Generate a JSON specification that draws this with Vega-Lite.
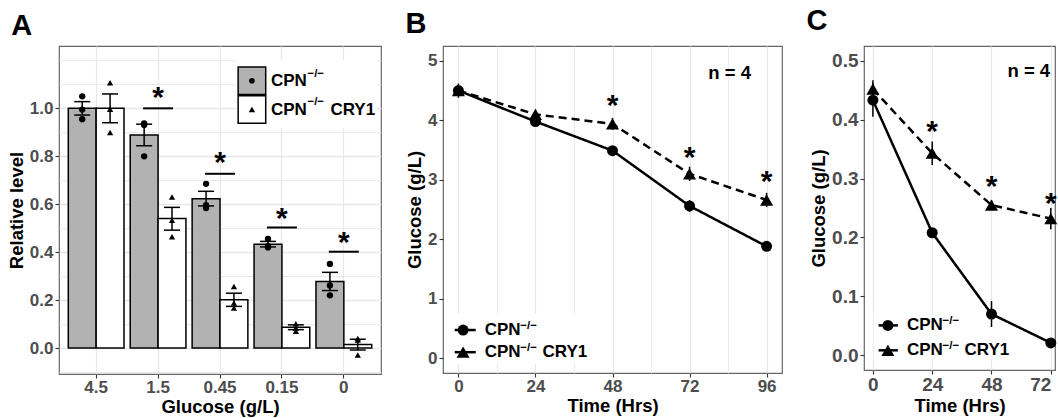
{
"$schema": "https://vega.github.io/schema/vega-lite/v6.json",
"background": "white",
"padding": {"top": 5, "left": 6, "right": 0, "bottom": 0},
"spacing": 22,
"config": {
 "font": "Liberation Sans",
 "view": {"stroke": "#666666", "strokeWidth": 1.2},
 "axis": {"domain": false, "tickColor": "#333333", "tickSize": 4, "tickWidth": 1.1, "labelFontSize": 17, "labelFontWeight": "bold", "labelColor": "#4D4D4D", "labelPadding": 2, "labelOverlap": false, "titleFontSize": 18.5, "titleFontWeight": "bold", "titleColor": "#000000", "titlePadding": 3, "gridColor": "#E8E8E8", "gridWidth": 1.3},
 "axisX": {"labelPadding": 1, "titlePadding": 2},
 "title": {"fontSize": 29, "fontWeight": "bold", "anchor": "start", "frame": "bounds", "color": "#000000"},
 "text": {"fontWeight": "bold", "color": "#000000"}
},
"datasets": {
 "aSum": [
  {"glucose": "4.5", "strain": "CPN", "mean": 1.0, "lo": 0.972, "hi": 1.028},
  {"glucose": "4.5", "strain": "CRY1", "mean": 1.0, "lo": 0.94, "hi": 1.06},
  {"glucose": "1.5", "strain": "CPN", "mean": 0.889, "lo": 0.844, "hi": 0.934},
  {"glucose": "1.5", "strain": "CRY1", "mean": 0.541, "lo": 0.492, "hi": 0.587},
  {"glucose": "0.45", "strain": "CPN", "mean": 0.623, "lo": 0.593, "hi": 0.654},
  {"glucose": "0.45", "strain": "CRY1", "mean": 0.202, "lo": 0.174, "hi": 0.229},
  {"glucose": "0.15", "strain": "CPN", "mean": 0.433, "lo": 0.422, "hi": 0.445},
  {"glucose": "0.15", "strain": "CRY1", "mean": 0.087, "lo": 0.077, "hi": 0.097},
  {"glucose": "0", "strain": "CPN", "mean": 0.278, "lo": 0.24, "hi": 0.316},
  {"glucose": "0", "strain": "CRY1", "mean": 0.015, "lo": -0.008, "hi": 0.037}
 ],
 "aPts": [
  {"glucose": "4.5", "strain": "CPN", "v": 1.05}, {"glucose": "4.5", "strain": "CPN", "v": 0.995}, {"glucose": "4.5", "strain": "CPN", "v": 0.955},
  {"glucose": "4.5", "strain": "CRY1", "v": 1.107}, {"glucose": "4.5", "strain": "CRY1", "v": 0.996}, {"glucose": "4.5", "strain": "CRY1", "v": 0.899},
  {"glucose": "1.5", "strain": "CPN", "v": 0.937}, {"glucose": "1.5", "strain": "CPN", "v": 0.93}, {"glucose": "1.5", "strain": "CPN", "v": 0.8},
  {"glucose": "1.5", "strain": "CRY1", "v": 0.63}, {"glucose": "1.5", "strain": "CRY1", "v": 0.533}, {"glucose": "1.5", "strain": "CRY1", "v": 0.464},
  {"glucose": "0.45", "strain": "CPN", "v": 0.685}, {"glucose": "0.45", "strain": "CPN", "v": 0.596}, {"glucose": "0.45", "strain": "CPN", "v": 0.584},
  {"glucose": "0.45", "strain": "CRY1", "v": 0.257}, {"glucose": "0.45", "strain": "CRY1", "v": 0.188}, {"glucose": "0.45", "strain": "CRY1", "v": 0.167},
  {"glucose": "0.15", "strain": "CPN", "v": 0.455}, {"glucose": "0.15", "strain": "CPN", "v": 0.425}, {"glucose": "0.15", "strain": "CPN", "v": 0.42},
  {"glucose": "0.15", "strain": "CRY1", "v": 0.102}, {"glucose": "0.15", "strain": "CRY1", "v": 0.084}, {"glucose": "0.15", "strain": "CRY1", "v": 0.07},
  {"glucose": "0", "strain": "CPN", "v": 0.351}, {"glucose": "0", "strain": "CPN", "v": 0.261}, {"glucose": "0", "strain": "CPN", "v": 0.22},
  {"glucose": "0", "strain": "CRY1", "v": 0.04}, {"glucose": "0", "strain": "CRY1", "v": 0.034}, {"glucose": "0", "strain": "CRY1", "v": -0.029}
 ],
 "aSig": [
  {"glucose": "1.5", "line": 1.0, "star": 1.053},
  {"glucose": "0.45", "line": 0.727, "star": 0.779},
  {"glucose": "0.15", "line": 0.503, "star": 0.547},
  {"glucose": "0", "line": 0.402, "star": 0.448}
 ],
 "bSer": [
  {"time": 0, "strain": "CPN", "glucose": 4.5, "lo": 4.45, "hi": 4.55},
  {"time": 24, "strain": "CPN", "glucose": 3.98, "lo": 3.93, "hi": 4.03},
  {"time": 48, "strain": "CPN", "glucose": 3.49, "lo": 3.44, "hi": 3.54},
  {"time": 72, "strain": "CPN", "glucose": 2.56, "lo": 2.46, "hi": 2.66},
  {"time": 96, "strain": "CPN", "glucose": 1.88, "lo": 1.83, "hi": 1.93},
  {"time": 0, "strain": "CRY1", "glucose": 4.5, "lo": 4.38, "hi": 4.62},
  {"time": 24, "strain": "CRY1", "glucose": 4.1, "lo": 4.02, "hi": 4.18},
  {"time": 48, "strain": "CRY1", "glucose": 3.94, "lo": 3.84, "hi": 4.04},
  {"time": 72, "strain": "CRY1", "glucose": 3.1, "lo": 2.98, "hi": 3.22},
  {"time": 96, "strain": "CRY1", "glucose": 2.66, "lo": 2.54, "hi": 2.78}
 ],
 "bStar": [{"time": 48, "y": 4.28}, {"time": 72, "y": 3.4}, {"time": 96, "y": 3.0}],
 "cSer": [
  {"time": 0, "strain": "CPN", "glucose": 0.433, "lo": 0.405, "hi": 0.461},
  {"time": 24, "strain": "CPN", "glucose": 0.208, "lo": 0.203, "hi": 0.213},
  {"time": 48, "strain": "CPN", "glucose": 0.07, "lo": 0.048, "hi": 0.092},
  {"time": 72, "strain": "CPN", "glucose": 0.021, "lo": 0.018, "hi": 0.024},
  {"time": 0, "strain": "CRY1", "glucose": 0.452, "lo": 0.437, "hi": 0.467},
  {"time": 24, "strain": "CRY1", "glucose": 0.343, "lo": 0.323, "hi": 0.363},
  {"time": 48, "strain": "CRY1", "glucose": 0.255, "lo": 0.247, "hi": 0.263},
  {"time": 72, "strain": "CRY1", "glucose": 0.232, "lo": 0.214, "hi": 0.25}
 ],
 "cStar": [{"time": 24, "y": 0.382}, {"time": 48, "y": 0.289}, {"time": 72, "y": 0.261}],
 "one": [{}]
},
"hconcat": [
 {
  "width": 322, "height": 328,
  "title": {"text": "A", "offset": 5, "dx": 4},
  "resolve": {"axis": {"y": "independent"}},
  "layer": [
   {"layer": [
   {"data": {"name": "aSum"}, "mark": {"type": "bar", "stroke": "black", "strokeWidth": 1.5},
    "encoding": {
     "x": {"field": "glucose", "type": "nominal", "scale": {"domain": ["4.5", "1.5", "0.45", "0.15", "0"], "paddingInner": 0.1, "paddingOuter": 0.15}, "title": "Glucose (g/L)", "axis": {"grid": true, "labelAngle": 0, "bandPosition": 0.5}},
     "xOffset": {"field": "strain", "type": "nominal", "scale": {"domain": ["CPN", "CRY1"], "paddingInner": 0, "paddingOuter": 0}},
     "y": {"field": "mean", "type": "quantitative", "stack": null, "scale": {"domain": [-0.108, 1.26], "nice": false, "zero": false}, "title": "Relative level",
      "axis": {"values": [0, 0.2, 0.4, 0.6, 0.8, 1], "format": ".1f", "grid": true, "gridWidth": 1.3}},
     "y2": {"datum": 0},
     "fill": {"field": "strain", "type": "nominal", "scale": {"domain": ["CPN", "CRY1"], "range": ["#B2B2B2", "#FFFFFF"]}, "legend": null}
    }},
   {"data": {"name": "aSum"}, "mark": {"type": "rule", "strokeWidth": 1.5, "color": "black"},
    "encoding": {"x": {"field": "glucose", "type": "nominal"}, "xOffset": {"field": "strain", "type": "nominal"}, "y": {"field": "lo", "type": "quantitative"}, "y2": {"field": "hi"}}},
   {"data": {"name": "aSum"}, "mark": {"type": "tick", "orient": "horizontal", "size": 16, "thickness": 1.5, "color": "black", "opacity": 1},
    "encoding": {"x": {"field": "glucose", "type": "nominal"}, "xOffset": {"field": "strain", "type": "nominal"}, "y": {"field": "lo", "type": "quantitative"}}},
   {"data": {"name": "aSum"}, "mark": {"type": "tick", "orient": "horizontal", "size": 16, "thickness": 1.5, "color": "black", "opacity": 1},
    "encoding": {"x": {"field": "glucose", "type": "nominal"}, "xOffset": {"field": "strain", "type": "nominal"}, "y": {"field": "hi", "type": "quantitative"}}},
   {"data": {"name": "aPts"}, "mark": {"type": "point", "filled": true, "color": "black", "opacity": 1, "size": 40},
    "encoding": {"x": {"field": "glucose", "type": "nominal"}, "xOffset": {"field": "strain", "type": "nominal"}, "y": {"field": "v", "type": "quantitative"},
     "shape": {"field": "strain", "type": "nominal", "scale": {"domain": ["CPN", "CRY1"], "range": ["circle", "triangle-up"]}, "legend": null}}},
   {"data": {"name": "aSig"}, "mark": {"type": "tick", "orient": "horizontal", "size": 30, "thickness": 2, "color": "black", "opacity": 1},
    "encoding": {"x": {"field": "glucose", "type": "nominal"}, "y": {"field": "line", "type": "quantitative"}}},
   {"data": {"name": "aSig"}, "mark": {"type": "text", "text": "*", "fontSize": 30, "baseline": "middle", "dy": 2},
    "encoding": {"x": {"field": "glucose", "type": "nominal"}, "y": {"field": "star", "type": "quantitative"}}},
   {"data": {"name": "one"}, "mark": {"type": "bar", "fill": "white", "width": 141, "xOffset": 25},
    "encoding": {"x": {"datum": "0.15", "type": "nominal"}, "y": {"datum": 1.202, "type": "quantitative"}, "y2": {"datum": 0.92}}},
   {"data": {"name": "one"}, "mark": {"type": "square", "size": 760, "fill": "#B2B2B2", "stroke": "black", "strokeWidth": 1.5, "opacity": 1, "xOffset": -30},
    "encoding": {"x": {"datum": "0.15", "type": "nominal"}, "y": {"datum": 1.115, "type": "quantitative"}}},
   {"data": {"name": "one"}, "mark": {"type": "square", "size": 760, "fill": "#FFFFFF", "stroke": "black", "strokeWidth": 1.5, "opacity": 1, "xOffset": -30},
    "encoding": {"x": {"datum": "0.15", "type": "nominal"}, "y": {"datum": 0.995, "type": "quantitative"}}},
   {"data": {"name": "one"}, "mark": {"type": "point", "shape": "circle", "filled": true, "color": "black", "opacity": 1, "size": 32, "xOffset": -30},
    "encoding": {"x": {"datum": "0.15", "type": "nominal"}, "y": {"datum": 1.115, "type": "quantitative"}}},
   {"data": {"name": "one"}, "mark": {"type": "point", "shape": "triangle-up", "filled": true, "color": "black", "opacity": 1, "size": 42, "xOffset": -30},
    "encoding": {"x": {"datum": "0.15", "type": "nominal"}, "y": {"datum": 0.995, "type": "quantitative"}}},
   {"data": {"name": "one"}, "mark": {"type": "text", "text": "CPN", "fontSize": 17, "align": "left", "baseline": "middle", "dx": -11},
    "encoding": {"x": {"datum": "0.15", "type": "nominal"}, "y": {"datum": 1.115, "type": "quantitative"}}},
   {"data": {"name": "one"}, "mark": {"type": "text", "text": "−/−", "fontSize": 11.5, "align": "left", "baseline": "middle", "dx": 25.5},
    "encoding": {"x": {"datum": "0.15", "type": "nominal"}, "y": {"datum": 1.145, "type": "quantitative"}}},
   {"data": {"name": "one"}, "mark": {"type": "text", "text": "CPN", "fontSize": 17, "align": "left", "baseline": "middle", "dx": -11},
    "encoding": {"x": {"datum": "0.15", "type": "nominal"}, "y": {"datum": 0.995, "type": "quantitative"}}},
   {"data": {"name": "one"}, "mark": {"type": "text", "text": "−/−", "fontSize": 11.5, "align": "left", "baseline": "middle", "dx": 25.5},
    "encoding": {"x": {"datum": "0.15", "type": "nominal"}, "y": {"datum": 1.025, "type": "quantitative"}}},
   {"data": {"name": "one"}, "mark": {"type": "text", "text": "CRY1", "fontSize": 17, "align": "left", "baseline": "middle", "dx": 48.5},
    "encoding": {"x": {"datum": "0.15", "type": "nominal"}, "y": {"datum": 0.995, "type": "quantitative"}}}
   ]},
   {"data": {"name": "one"}, "mark": {"type": "rule", "opacity": 0},
    "encoding": {"y": {"datum": 0.5, "type": "quantitative",
     "axis": {"orient": "right", "values": [-0.1, 0.1, 0.3, 0.5, 0.7, 0.9, 1.1, 1.2], "labels": false, "ticks": false, "domain": false, "title": null, "grid": true, "gridWidth": 0.9}}}}
  ]
 },
 {
  "width": 339, "height": 327,
  "title": {"text": "B", "offset": 7},
  "layer": [
   {"data": {"name": "one"}, "mark": {"type": "rect", "fill": "white"},
    "encoding": {"x": {"datum": -2.2, "type": "quantitative"}, "x2": {"datum": 43}, "y": {"datum": 0.757, "type": "quantitative"}, "y2": {"datum": -0.1}}},
   {"data": {"name": "bSer"}, "mark": {"type": "line", "strokeWidth": 2.5, "color": "black"},
    "encoding": {
     "x": {"field": "time", "type": "quantitative", "scale": {"domain": [-4.8, 100.8], "nice": false, "zero": false}, "title": "Time (Hrs)",
      "axis": {"values": [0, 12, 24, 36, 48, 60, 72, 84, 96], "grid": true,
       "labelExpr": "datum.value % 24 === 0 ? format(datum.value, 'd') : ''",
       "tickOpacity": {"condition": {"test": "datum.value % 24 === 0", "value": 1}, "value": 0},
       "gridWidth": {"condition": {"test": "datum.value % 24 === 0", "value": 1.3}, "value": 0.9}}},
     "y": {"field": "glucose", "type": "quantitative", "scale": {"domain": [-0.25, 5.25], "nice": false, "zero": false}, "title": "Glucose (g/L)",
      "axis": {"values": [0, 0.5, 1, 1.5, 2, 2.5, 3, 3.5, 4, 4.5, 5],
       "labelExpr": "datum.value % 1 === 0 ? format(datum.value, 'd') : ''",
       "tickOpacity": {"condition": {"test": "datum.value % 1 === 0", "value": 1}, "value": 0},
       "gridWidth": {"condition": {"test": "datum.value % 1 === 0", "value": 1.3}, "value": 0.9}}},
     "strokeDash": {"field": "strain", "type": "nominal", "scale": {"domain": ["CPN", "CRY1"], "range": [[1, 0], [8, 5]]}, "legend": null}
    }},
   {"data": {"name": "bSer"}, "mark": {"type": "rule", "strokeWidth": 1.5, "color": "black"},
    "encoding": {"x": {"field": "time", "type": "quantitative"}, "y": {"field": "lo", "type": "quantitative"}, "y2": {"field": "hi"}}},
   {"data": {"name": "bSer"}, "mark": {"type": "point", "filled": true, "color": "black", "opacity": 1},
    "encoding": {"x": {"field": "time", "type": "quantitative"}, "y": {"field": "glucose", "type": "quantitative"},
     "shape": {"field": "strain", "type": "nominal", "scale": {"domain": ["CPN", "CRY1"], "range": ["circle", "triangle-up"]}, "legend": null},
     "size": {"field": "strain", "type": "ordinal", "scale": {"domain": ["CPN", "CRY1"], "range": [121, 170]}, "legend": null}}},
   {"data": {"name": "bStar"}, "mark": {"type": "text", "text": "*", "fontSize": 30, "baseline": "middle", "dy": 2},
    "encoding": {"x": {"field": "time", "type": "quantitative"}, "y": {"field": "y", "type": "quantitative"}}},
   {"data": {"name": "one"}, "mark": {"type": "text", "text": "n = 4", "fontSize": 18.5, "baseline": "middle"},
    "encoding": {"x": {"datum": 84.5, "type": "quantitative"}, "y": {"datum": 4.79, "type": "quantitative"}}},
   {"data": {"name": "one"}, "mark": {"type": "rule", "strokeWidth": 2.5, "color": "black"},
    "encoding": {"x": {"datum": -1.15, "type": "quantitative"}, "x2": {"datum": 5.4}, "y": {"datum": 0.473, "type": "quantitative"}}},
   {"data": {"name": "one"}, "mark": {"type": "rule", "strokeWidth": 2.5, "color": "black"},
    "encoding": {"x": {"datum": -1.15, "type": "quantitative"}, "x2": {"datum": 5.4}, "y": {"datum": 0.1, "type": "quantitative"}}},
   {"data": {"name": "one"}, "mark": {"type": "point", "shape": "circle", "filled": true, "color": "black", "opacity": 1, "size": 121},
    "encoding": {"x": {"datum": 1.46, "type": "quantitative"}, "y": {"datum": 0.473, "type": "quantitative"}}},
   {"data": {"name": "one"}, "mark": {"type": "point", "shape": "triangle-up", "filled": true, "color": "black", "opacity": 1, "size": 170},
    "encoding": {"x": {"datum": 1.46, "type": "quantitative"}, "y": {"datum": 0.1, "type": "quantitative"}}},
   {"data": {"name": "one"}, "mark": {"type": "text", "text": "CPN", "fontSize": 17, "align": "left", "baseline": "middle"},
    "encoding": {"x": {"datum": 8.2, "type": "quantitative"}, "y": {"datum": 0.473, "type": "quantitative"}}},
   {"data": {"name": "one"}, "mark": {"type": "text", "text": "−/−", "fontSize": 11.5, "align": "left", "baseline": "middle"},
    "encoding": {"x": {"datum": 19.3, "type": "quantitative"}, "y": {"datum": 0.545, "type": "quantitative"}}},
   {"data": {"name": "one"}, "mark": {"type": "text", "text": "CPN", "fontSize": 17, "align": "left", "baseline": "middle"},
    "encoding": {"x": {"datum": 8.2, "type": "quantitative"}, "y": {"datum": 0.1, "type": "quantitative"}}},
   {"data": {"name": "one"}, "mark": {"type": "text", "text": "−/−", "fontSize": 11.5, "align": "left", "baseline": "middle"},
    "encoding": {"x": {"datum": 19.3, "type": "quantitative"}, "y": {"datum": 0.172, "type": "quantitative"}}},
   {"data": {"name": "one"}, "mark": {"type": "text", "text": "CRY1", "fontSize": 17, "align": "left", "baseline": "middle"},
    "encoding": {"x": {"datum": 26.2, "type": "quantitative"}, "y": {"datum": 0.1, "type": "quantitative"}}}
  ]
 },
 {
  "width": 191, "height": 324,
  "title": {"text": "C", "offset": 10.5, "dx": -3},
  "layer": [
   {"data": {"name": "one"}, "mark": {"type": "rect", "fill": "white"},
    "encoding": {"x": {"datum": 0.3, "type": "quantitative"}, "x2": {"datum": 57.6}, "y": {"datum": 0.072, "type": "quantitative"}, "y2": {"datum": -0.006}}},
   {"data": {"name": "cSer"}, "mark": {"type": "line", "strokeWidth": 2.5, "color": "black"},
    "encoding": {
     "x": {"field": "time", "type": "quantitative", "scale": {"domain": [-3.6, 73.7], "nice": false, "zero": false}, "title": "Time (Hrs)",
      "axis": {"values": [0, 12, 24, 36, 48, 60, 72], "grid": true, "labelFontSize": 19, "labelFlush": 8,
       "labelExpr": "datum.value % 24 === 0 ? format(datum.value, 'd') : ''",
       "tickOpacity": {"condition": {"test": "datum.value % 24 === 0", "value": 1}, "value": 0},
       "gridWidth": {"condition": {"test": "datum.value % 24 === 0", "value": 1.3}, "value": 0.9}}},
     "y": {"field": "glucose", "type": "quantitative", "scale": {"domain": [-0.025, 0.525], "nice": false, "zero": false}, "title": "Glucose (g/L)",
      "axis": {"values": [0, 0.05, 0.1, 0.15, 0.2, 0.25, 0.3, 0.35, 0.4, 0.45, 0.5], "labelFontSize": 19,
       "labelExpr": "indexof([0, 0.1, 0.2, 0.3, 0.4, 0.5], datum.value) >= 0 ? format(datum.value, '.1f') : ''",
       "tickOpacity": {"condition": {"test": "indexof([0, 0.1, 0.2, 0.3, 0.4, 0.5], datum.value) >= 0", "value": 1}, "value": 0},
       "gridWidth": {"condition": {"test": "indexof([0, 0.1, 0.2, 0.3, 0.4, 0.5], datum.value) >= 0", "value": 1.3}, "value": 0.9}}},
     "strokeDash": {"field": "strain", "type": "nominal", "scale": {"domain": ["CPN", "CRY1"], "range": [[1, 0], [8, 5]]}, "legend": null}
    }},
   {"data": {"name": "cSer"}, "mark": {"type": "rule", "strokeWidth": 1.5, "color": "black"},
    "encoding": {"x": {"field": "time", "type": "quantitative"}, "y": {"field": "lo", "type": "quantitative"}, "y2": {"field": "hi"}}},
   {"data": {"name": "cSer"}, "mark": {"type": "point", "filled": true, "color": "black", "opacity": 1},
    "encoding": {"x": {"field": "time", "type": "quantitative"}, "y": {"field": "glucose", "type": "quantitative"},
     "shape": {"field": "strain", "type": "nominal", "scale": {"domain": ["CPN", "CRY1"], "range": ["circle", "triangle-up"]}, "legend": null},
     "size": {"field": "strain", "type": "ordinal", "scale": {"domain": ["CPN", "CRY1"], "range": [121, 170]}, "legend": null}}},
   {"data": {"name": "cStar"}, "mark": {"type": "text", "text": "*", "fontSize": 30, "baseline": "middle", "dy": 2},
    "encoding": {"x": {"field": "time", "type": "quantitative"}, "y": {"field": "y", "type": "quantitative"}}},
   {"data": {"name": "one"}, "mark": {"type": "text", "text": "n = 4", "fontSize": 18.5, "baseline": "middle"},
    "encoding": {"x": {"datum": 63.1, "type": "quantitative"}, "y": {"datum": 0.483, "type": "quantitative"}}},
   {"data": {"name": "one"}, "mark": {"type": "rule", "strokeWidth": 2.5, "color": "black"},
    "encoding": {"x": {"datum": 2.3, "type": "quantitative"}, "x2": {"datum": 10.1}, "y": {"datum": 0.0507, "type": "quantitative"}}},
   {"data": {"name": "one"}, "mark": {"type": "rule", "strokeWidth": 2.5, "color": "black"},
    "encoding": {"x": {"datum": 2.3, "type": "quantitative"}, "x2": {"datum": 10.1}, "y": {"datum": 0.0084, "type": "quantitative"}}},
   {"data": {"name": "one"}, "mark": {"type": "point", "shape": "circle", "filled": true, "color": "black", "opacity": 1, "size": 121},
    "encoding": {"x": {"datum": 6.07, "type": "quantitative"}, "y": {"datum": 0.0507, "type": "quantitative"}}},
   {"data": {"name": "one"}, "mark": {"type": "point", "shape": "triangle-up", "filled": true, "color": "black", "opacity": 1, "size": 170},
    "encoding": {"x": {"datum": 6.07, "type": "quantitative"}, "y": {"datum": 0.0084, "type": "quantitative"}}},
   {"data": {"name": "one"}, "mark": {"type": "text", "text": "CPN", "fontSize": 17, "align": "left", "baseline": "middle"},
    "encoding": {"x": {"datum": 13.8, "type": "quantitative"}, "y": {"datum": 0.0507, "type": "quantitative"}}},
   {"data": {"name": "one"}, "mark": {"type": "text", "text": "−/−", "fontSize": 11.5, "align": "left", "baseline": "middle"},
    "encoding": {"x": {"datum": 28.2, "type": "quantitative"}, "y": {"datum": 0.058, "type": "quantitative"}}},
   {"data": {"name": "one"}, "mark": {"type": "text", "text": "CPN", "fontSize": 17, "align": "left", "baseline": "middle"},
    "encoding": {"x": {"datum": 13.8, "type": "quantitative"}, "y": {"datum": 0.0084, "type": "quantitative"}}},
   {"data": {"name": "one"}, "mark": {"type": "text", "text": "−/−", "fontSize": 11.5, "align": "left", "baseline": "middle"},
    "encoding": {"x": {"datum": 28.2, "type": "quantitative"}, "y": {"datum": 0.0157, "type": "quantitative"}}},
   {"data": {"name": "one"}, "mark": {"type": "text", "text": "CRY1", "fontSize": 17, "align": "left", "baseline": "middle"},
    "encoding": {"x": {"datum": 37.1, "type": "quantitative"}, "y": {"datum": 0.0084, "type": "quantitative"}}}
  ]
 }
]
}
